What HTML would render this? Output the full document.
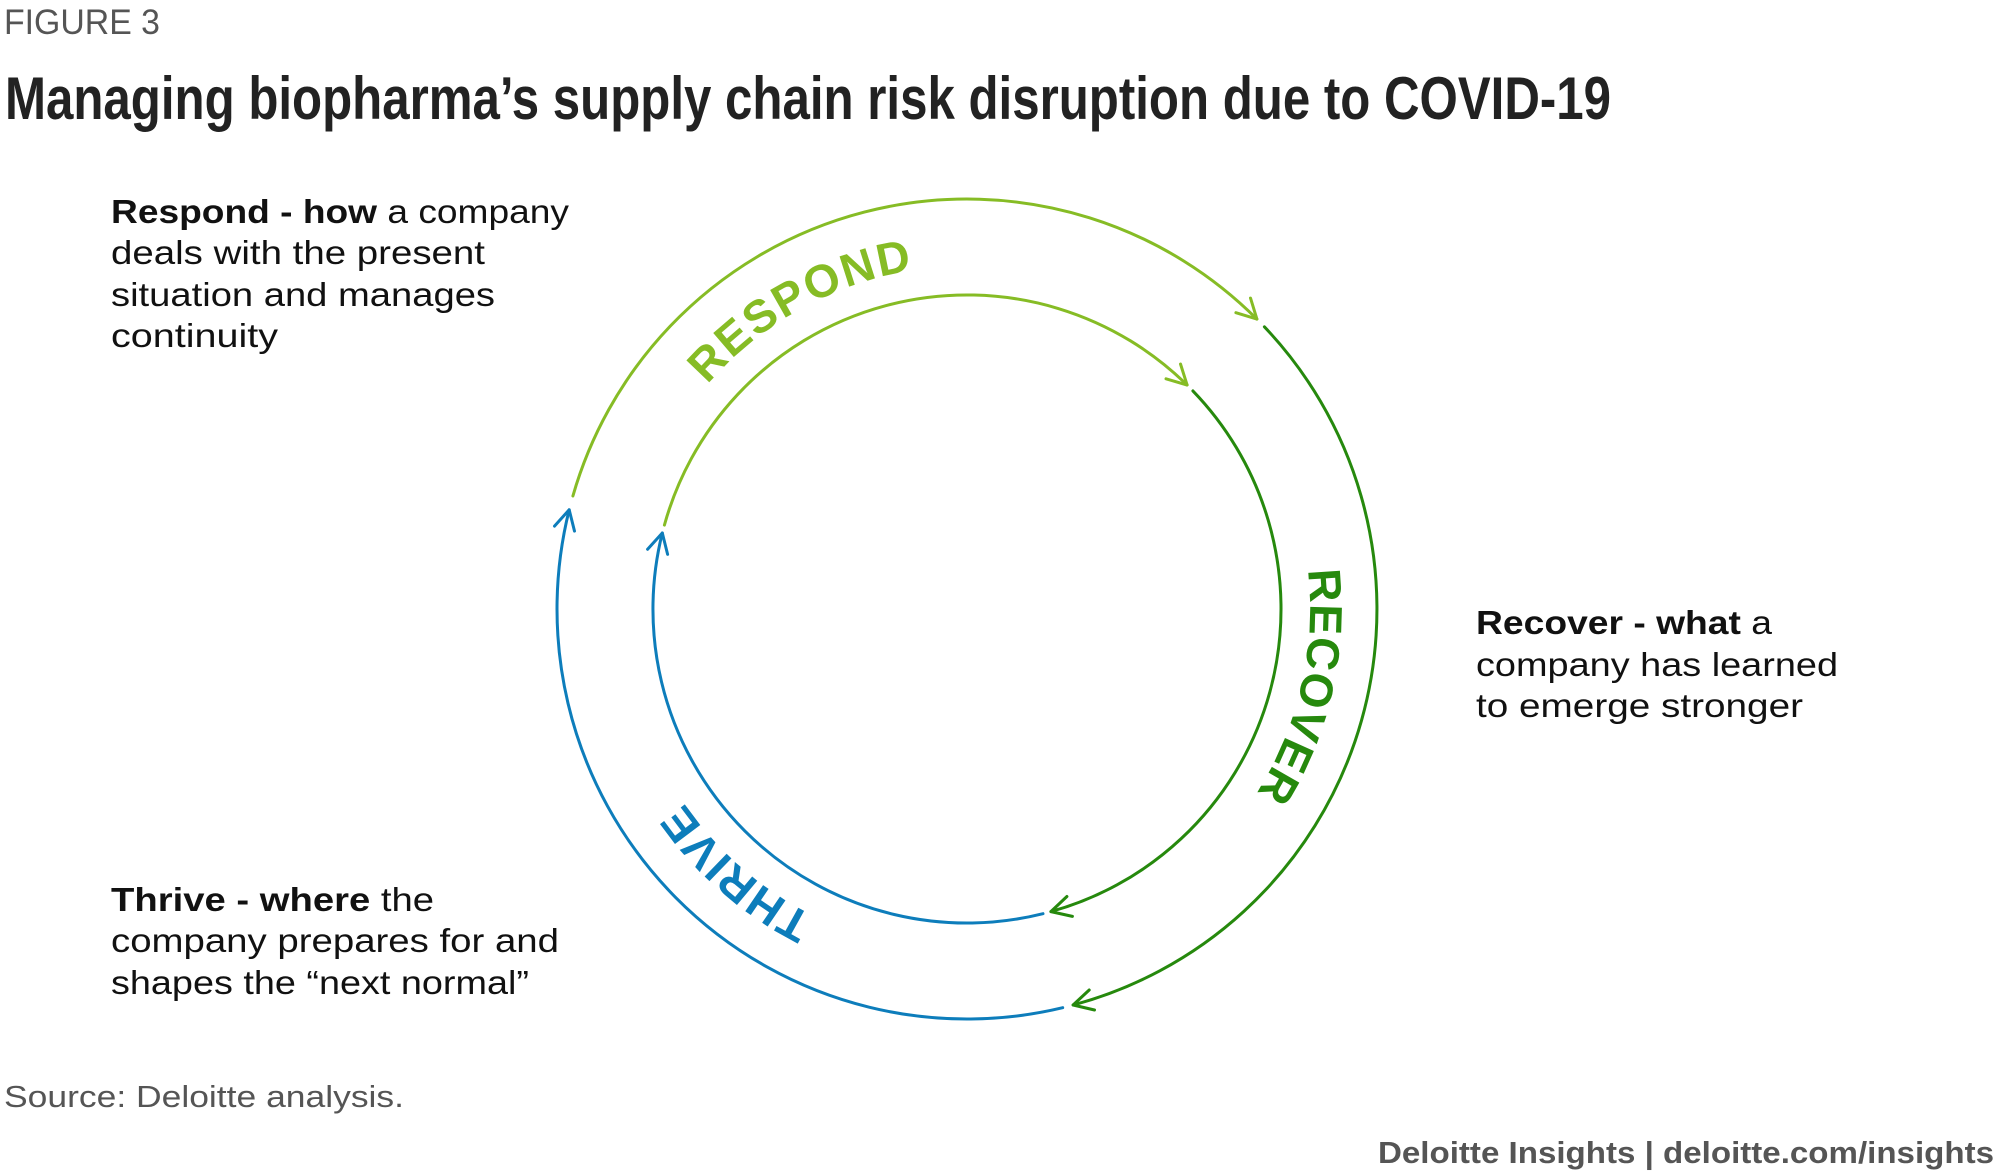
<!DOCTYPE html>
<html><head><meta charset="utf-8"><style>
html,body{margin:0;padding:0;background:#fff;}
svg{display:block;}
text{font-family:"Liberation Sans",sans-serif;}
.n{font-family:"Liberation Sans Narrow","Liberation Sans",sans-serif;}
.b{font-size:33px;fill:#111;}
</style></head><body>
<svg width="2000" height="1176" viewBox="0 0 2000 1176" xmlns="http://www.w3.org/2000/svg">
<text class="n" x="4" y="34" font-size="35" fill="#555" textLength="156" lengthAdjust="spacingAndGlyphs">FIGURE 3</text>
<text class="n" x="5" y="119" font-size="60" font-weight="bold" fill="#222" textLength="1606" lengthAdjust="spacingAndGlyphs">Managing biopharma’s supply chain risk disruption due to COVID-19</text>

<text class="b" x="111" y="223" textLength="458" lengthAdjust="spacingAndGlyphs"><tspan font-weight="bold">Respond - how</tspan> a company</text>
<text class="b" x="111" y="264" textLength="374" lengthAdjust="spacingAndGlyphs">deals with the present</text>
<text class="b" x="111" y="306" textLength="384" lengthAdjust="spacingAndGlyphs">situation and manages</text>
<text class="b" x="111" y="347" textLength="167" lengthAdjust="spacingAndGlyphs">continuity</text>

<text class="b" x="1476" y="634" textLength="296" lengthAdjust="spacingAndGlyphs"><tspan font-weight="bold">Recover - what</tspan> a</text>
<text class="b" x="1476" y="676" textLength="362" lengthAdjust="spacingAndGlyphs">company has learned</text>
<text class="b" x="1476" y="717" textLength="327" lengthAdjust="spacingAndGlyphs">to emerge stronger</text>

<text class="b" x="111" y="911" textLength="323" lengthAdjust="spacingAndGlyphs"><tspan font-weight="bold">Thrive - where</tspan> the</text>
<text class="b" x="111" y="952" textLength="448" lengthAdjust="spacingAndGlyphs">company prepares for and</text>
<text class="b" x="111" y="994" textLength="418" lengthAdjust="spacingAndGlyphs">shapes the “next normal”</text>

<text x="4" y="1107" font-size="31" fill="#555" textLength="400" lengthAdjust="spacingAndGlyphs">Source: Deloitte analysis.</text>
<text x="1378" y="1163" font-size="31" font-weight="bold" fill="#555" textLength="616" lengthAdjust="spacingAndGlyphs">Deloitte Insights | deloitte.com/insights</text>

<g fill="none" stroke-width="3" stroke-linecap="round" stroke-linejoin="round">
<path d="M572.9 496 A410 410 0 0 1 1256.9 319.1" stroke="#86bc25"/>
<polyline points="1250.5,298.1 1256.9,319.1 1235.9,312.7" stroke="#86bc25"/>
<path d="M1264.4 326.8 A410 410 0 0 1 1073.1 1005" stroke="#26890d"/>
<polyline points="1094.5,1010 1073.1,1005 1089.2,990" stroke="#26890d"/>
<path d="M1062.7 1007.7 A410 410 0 0 1 569.2 509.8" stroke="#0d7dbb"/>
<polyline points="554.5,526.1 569.2,509.8 574.5,531.1" stroke="#0d7dbb"/>
<path d="M664.4 525.1 A314 314 0 0 1 1187.1 385" stroke="#86bc25"/>
<polyline points="1180.5,364 1187.1,385 1166,378.8" stroke="#86bc25"/>
<path d="M1192.9 390.9 A314 314 0 0 1 1050.9 911.6" stroke="#26890d"/>
<polyline points="1072.4,916.4 1050.9,911.6 1066.9,896.5" stroke="#26890d"/>
<path d="M1043 913.7 A314 314 0 0 1 662.3 533" stroke="#0d7dbb"/>
<polyline points="647.6,549.3 662.3,533 667.6,554.3" stroke="#0d7dbb"/>
</g>
<path id="tp" d="M624 609 A343 343 0 1 1 1310 609 A343 343 0 1 1 624 609" fill="none"/>
<text font-size="46" font-weight="bold" letter-spacing="2" fill="#86bc25" text-anchor="middle"><textPath href="#tp" startOffset="365">RESPOND</textPath></text>
<text font-size="46" font-weight="bold" letter-spacing="1" fill="#26890d" text-anchor="middle"><textPath href="#tp" startOffset="1155">RECOVER</textPath></text>
<text font-size="46" font-weight="bold" letter-spacing="1" fill="#0d7dbb" text-anchor="middle"><textPath href="#tp" startOffset="1862">THRIVE</textPath></text>
</svg>
</body></html>
